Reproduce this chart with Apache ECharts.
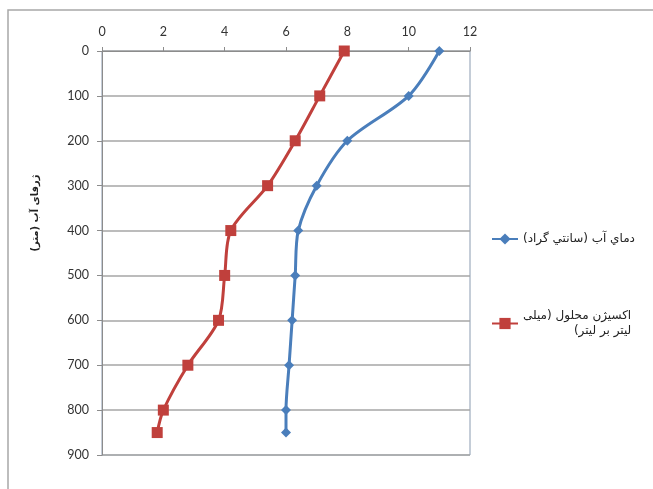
<!DOCTYPE html>
<html>
<head>
<meta charset="utf-8">
<script src="https://cdn.jsdelivr.net/npm/echarts@6/dist/echarts.min.js"></script>
<style>
html,body{margin:0;padding:0;background:#fff;}
#c{width:653px;height:489px;}
</style>
</head>
<body>
<div id="c"></div>
<script>
const depths = [0, 100, 200, 300, 400, 500, 600, 700, 800, 850];
const temperature = [11.0, 10.0, 8.0, 7.0, 6.4, 6.3, 6.2, 6.1, 6.0, 6.0];
const oxygen = [7.9, 7.1, 6.3, 5.4, 4.2, 4.0, 3.8, 2.8, 2.0, 1.8];
const tempName = 'دماي آب (سانتي گراد)\u200F';
const oxyName = 'اکسیژن محلول (میلی لیتر بر لیتر)\u200F';
const oxyLines = ['اکسیژن محلول (میلی\u200F', 'لیتر بر لیتر)\u200F'];
const yTitle = 'ژرفای آب (متر)\u200F';
const xTicks = {min: 0, max: 12, interval: 2};
const yTicks = {min: 0, max: 900, interval: 100};

const chart = echarts.init(document.getElementById('c'), null, {renderer: 'canvas'});
const labelFont = {fontFamily: 'Lato, "Liberation Sans", sans-serif', fontSize: 12.5, color: '#333'};
const legendFont = {fontFamily: 'DejaVu Sans', fontSize: 12, color: '#222'};
chart.setOption({
  animation: false,
  backgroundColor: '#fff',
  graphic: [{
    type: 'rect', shape: {x: 8, y: 10, width: 700, height: 520},
    style: {fill: 'none', stroke: '#a8a8a8', lineWidth: 1.5}, silent: true, z: -10
  }],
  grid: {left: 102, right: 183, top: 51, bottom: 34, show: true, borderColor: '#8a9bb0', borderWidth: 1, backgroundColor: 'transparent'},
  xAxis: {
    type: 'value', position: 'top', min: xTicks.min, max: xTicks.max, interval: xTicks.interval,
    axisLine: {show: true, lineStyle: {color: '#8c8c8c', width: 1}},
    axisTick: {show: true, inside: false, length: 4, lineStyle: {color: '#8c8c8c'}},
    axisLabel: Object.assign({margin: 13}, labelFont),
    splitLine: {show: false}
  },
  yAxis: {
    type: 'value', inverse: true, min: yTicks.min, max: yTicks.max, interval: yTicks.interval,
    name: yTitle, nameLocation: 'middle', nameGap: 62, nameRotate: 90,
    nameTextStyle: {fontFamily: 'DejaVu Sans', fontSize: 10, fontWeight: 'bold', color: '#222', padding: [0, 0, 0, 80]},
    axisLine: {show: true, lineStyle: {color: '#8c8c8c', width: 1}},
    axisTick: {show: true, length: 5, lineStyle: {color: '#8c8c8c'}},
    axisLabel: Object.assign({margin: 13}, labelFont),
    splitLine: {show: true, lineStyle: {color: '#a6a6a6', width: 1.5}}
  },
  legend: [{
    data: [tempName], orient: 'vertical', left: 486, top: 228,
    itemWidth: 26, itemHeight: 14,
    textStyle: legendFont
  }, {
    data: [oxyName], orient: 'vertical', left: 486, top: 305,
    itemWidth: 26, itemHeight: 14,
    formatter: function () { return '{r|' + oxyLines[0] + '}\n{r|' + oxyLines[1] + '}'; },
    textStyle: Object.assign({rich: {r: Object.assign({align: 'right', lineHeight: 15}, legendFont)}}, legendFont)
  }],
  series: [{
    name: tempName, type: 'line', smooth: 0.3,
    data: depths.map((d, i) => [temperature[i], d]),
    symbol: 'diamond', symbolSize: 10,
    lineStyle: {color: '#4a7ebb', width: 3},
    itemStyle: {color: '#4a7ebb'}
  }, {
    name: oxyName, type: 'line', smooth: 0.3,
    data: depths.map((d, i) => [oxygen[i], d]),
    symbol: 'rect', symbolSize: 11,
    lineStyle: {color: '#c0403c', width: 3},
    itemStyle: {color: '#c0403c'}
  }]
});
</script>
</body>
</html>
